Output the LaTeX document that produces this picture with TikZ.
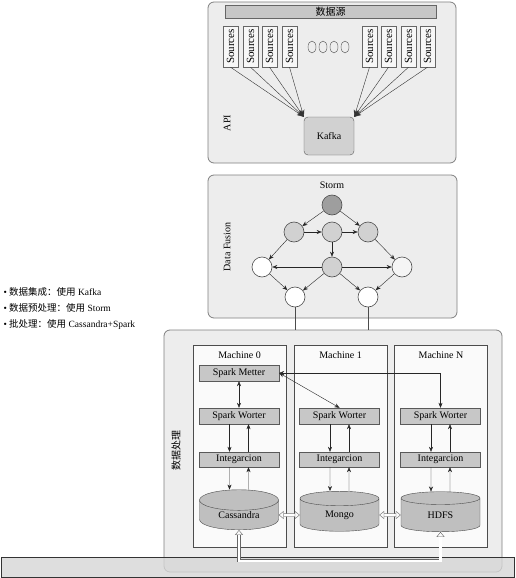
\documentclass[tikz,border=0pt]{standalone}
\usepackage{fontspec}
\setmainfont{Liberation Serif}
\newfontfamily\cjk{Noto Sans CJK SC}
\usetikzlibrary{arrows.meta,positioning,shapes.geometric}

\tikzset{
  panel/.style={draw=black!50, fill=black!7, line width=0.8pt, rounded corners=6pt},
  srcbox/.style={draw=black!60, fill=black!3, minimum width=15pt, minimum height=41pt, inner sep=0pt},
  graybox/.style={draw=black!65, fill=black!22, minimum width=80pt, minimum height=16pt, inner sep=0pt},
  machine/.style={draw=black!70, fill=black!2, minimum width=93pt, minimum height=202pt},
  vert/.style={circle, draw=black!70, line width=0.6pt, minimum size=20pt, inner sep=0pt},
  db/.style={cylinder, shape border rotate=90, aspect=0.5, draw=black!70, fill=black!25,
    minimum width=79pt, minimum height=40pt, inner sep=0pt},
  arr/.style={-{Stealth[length=5pt,width=4pt]}, black!85},
  srcarr/.style={-{Stealth[length=7pt,width=5pt]}, black!80},
  hollow/.style={draw=black!60, double=white, double distance=2.5pt,
    {Triangle[open,length=5pt,width=8pt]}-{Triangle[open,length=5pt,width=8pt]}}
}

\begin{document}
\begin{tikzpicture}[x=1pt, y=-1pt, font=\fontsize{10}{12}\selectfont]
  \useasboundingbox (0,0) rectangle (515,578);

  % API layer
  \node[panel, minimum width=248pt, minimum height=161pt] (api) at (332,82.5) {};
  \node[rotate=90] (apilabel) at (227,123) {API};
  \node[draw=black!60, fill=black!22, minimum width=211pt, minimum height=13pt, inner sep=0pt]
    (datasrc) at (330.5,11.5) {\cjk 数据源};
  \node[draw=black!65, fill=black!18, rounded corners=4pt, minimum width=50pt, minimum height=38pt]
    (kafka) at (329,136) {Kafka};
  \foreach \x [count=\i] in {230.5,250.5,269.5,289.5} {
    \node[srcbox] (srcl\i) at (\x,46.5) {\rotatebox{90}{\fontsize{11}{12}\selectfont Sources}};
    \draw[srcarr] (srcl\i.south) -- (kafka.north west);
  }
  \foreach \x [count=\i] in {369.5,388.5,408.5,427.5} {
    \node[srcbox] (srcr\i) at (\x,46.5) {\rotatebox{90}{\fontsize{11}{12}\selectfont Sources}};
    \draw[srcarr] (srcr\i.south) -- (kafka.north east);
  }
  \foreach \x [count=\i] in {312,323,334,345}
    \node[ellipse, draw=black!70, minimum width=8pt, minimum height=12pt, inner sep=0pt] (dot\i) at (\x,47) {};

  % Storm layer
  \node[panel, minimum width=249pt, minimum height=143pt] (storm) at (332.5,246.5) {};
  \node (stormtitle) at (332,185) {Storm};
  \node[rotate=90] (fusionlabel) at (227,247) {Data Fusion};
  \node[vert, fill=black!38] (s0) at (332,205) {};
  \node[vert, fill=black!18] (s1) at (294,232) {};
  \node[vert, fill=black!18] (s2) at (332,232) {};
  \node[vert, fill=black!18] (s3) at (368,232) {};
  \node[vert, fill=white]    (s4) at (262,267) {};
  \node[vert, fill=black!18] (s5) at (332,267) {};
  \node[vert, fill=black!4]  (s6) at (402,267) {};
  \node[vert, fill=white]    (s7) at (295,297) {};
  \node[vert, fill=white]    (s8) at (368,297) {};
  \foreach \a/\b in {s0/s1,s0/s3,s1/s2,s2/s3,s2/s5,s1/s4,s3/s6,s5/s4,s5/s6,s4/s7,s5/s7,s5/s8,s6/s8}
    \draw[arr] (\a) -- (\b);

  % processing layer
  \node[panel, minimum width=338pt, minimum height=242pt] (proc) at (333,451) {};
  \draw[black!70] (s7) -- (s7 |- proc.north);
  \draw[black!70] (s8) -- (s8 |- proc.north);
  \node[rotate=90] (proclabel) at (176,450) {\cjk 数据处理};

  \foreach \x/\n/\t in {239.5/0/Machine 0, 340.5/1/Machine 1, 441/2/Machine N} {
    \node[machine] (m\n) at (\x,446) {};
    \node (mt\n) at (\x,355) {\t};
  }
  \node[graybox] (meter) at (239,373) {Spark Metter};
  \foreach \x/\n/\d in {239/0/Cassandra, 339.5/1/Mongo, 440.5/2/HDFS} {
    \node[graybox] (w\n) at (\x,416) {Spark Worter};
    \node[graybox, minimum height=15pt] (int\n) at (\x,459.5) {Integarcion};
    \node[db] (c\n) at (\x,515) {\raisebox{-5pt}{\d}};
    \draw[arr] ([xshift=-9.5pt]w\n.south) -- ([xshift=-9.5pt]int\n.north);
    \draw[arr] ([xshift=9.5pt]int\n.north) -- ([xshift=9.5pt]w\n.south);
    \draw[arr] ([xshift=-9.5pt]int\n.south) -- ([xshift=-9.5pt]c\n.north);
    \draw[arr] ([xshift=9.5pt]c\n.north) -- ([xshift=9.5pt]int\n.south);
  }
  \draw[arr, {Stealth[length=5pt,width=4pt]}-{Stealth[length=5pt,width=4pt]}] (meter) -- (w0);
  \draw[arr, {Stealth[length=5pt,width=4pt]}-{Stealth[length=5pt,width=4pt]}] (meter.east) -- (w1.north);
  \draw[arr, {Stealth[length=5pt,width=4pt]}-{Stealth[length=5pt,width=4pt]}] (meter.east) -| (w2.north);
  \draw[hollow] (c0.east) -- (c1.west);
  \draw[hollow] (c1.east) -- (c2.west);

  % bottom bar
  \node[draw=black!80, fill=black!16, fill opacity=0.8, draw opacity=1,
    minimum width=513pt, minimum height=20pt, inner sep=0pt] (bar) at (257.5,567) {};
  \path (c0.south |- bar.north) ++(0,4) coordinate (busl);
  \draw[hollow] (c0.south) -- (busl) -| (c2.south);

  % notes
  \node[anchor=west, align=left, font=\fontsize{9.5}{16}\selectfont] (notes) at (0,309)
    {• {\cjk 数据集成：使用} Kafka\\
     • {\cjk 数据预处理：使用} Storm\\
     • {\cjk 批处理：使用} Cassandra+Spark};
\end{tikzpicture}
\end{document}
